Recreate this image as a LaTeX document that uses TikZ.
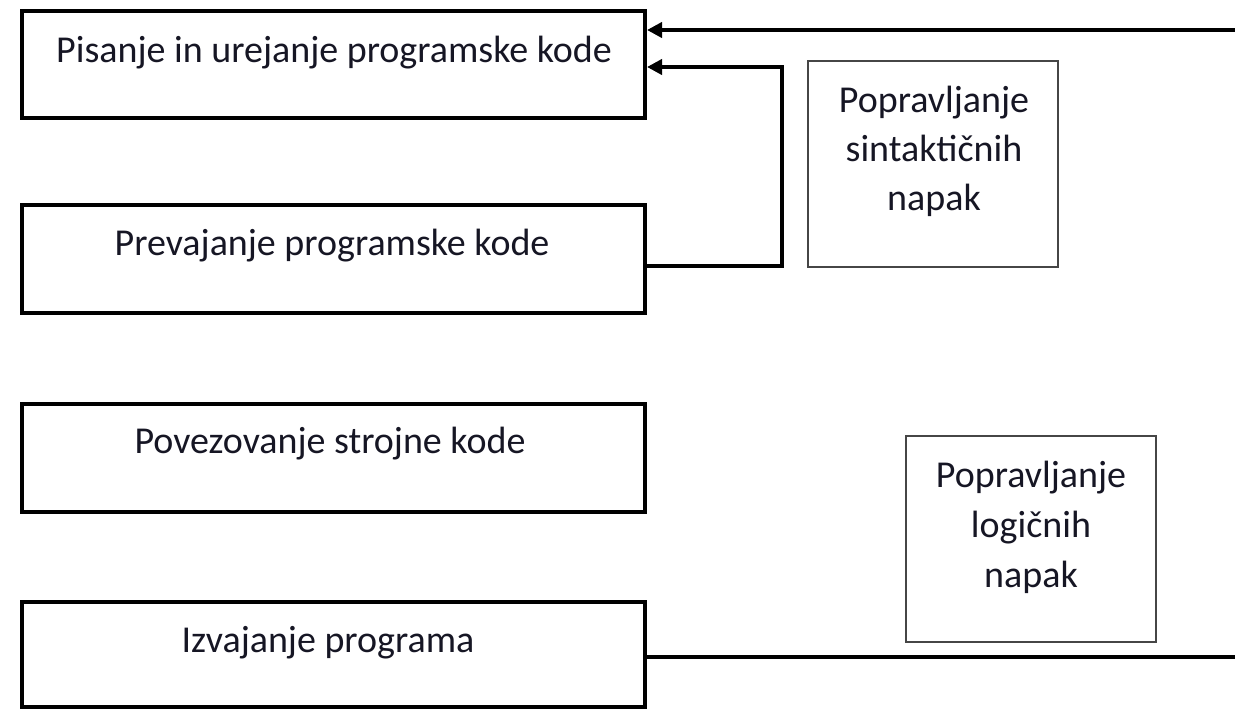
\documentclass[tikz,border=0pt]{standalone}
\usepackage{fontspec}
\setmainfont{Carlito}
\usetikzlibrary{arrows.meta}
\definecolor{txtcol}{RGB}{22,22,36}
\definecolor{fixgray}{RGB}{70,70,70}
\begin{document}
\begin{tikzpicture}[x=1pt,y=-1pt,
  box/.style={draw=black, line width=4pt, minimum width=623pt, inner sep=0pt},
  fixbox/.style={draw=fixgray, line width=2.5pt, minimum width=250pt, minimum height=206pt, inner sep=0pt},
  lbl/.style={font=\fontsize{38}{49.5}\selectfont, text=txtcol, inner sep=0pt, anchor=base, align=center},
  conn/.style={draw=black, line width=4pt},
  arr/.style={conn, -{Triangle[length=15pt,width=15pt]}}]
\useasboundingbox (0,0) rectangle (1235,710);

\node[box, minimum height=107pt] (b1) at (333.5,64.5) {};
\node[box, minimum height=108pt] (b2) at (333.5,259) {};
\node[box, minimum height=108pt] (b3) at (333.5,458) {};
\node[box, minimum height=105pt] (b4) at (333.5,654.5) {};
\node[fixbox] (b5) at (933,164) {};
\node[fixbox] (b6) at (1031,539) {};

\node[lbl] (t1) at (334,62) {Pisanje in urejanje programske kode};
\node[lbl] (t2) at (332,255) {Prevajanje programske kode};
\node[lbl] (t3) at (330,453) {Povezovanje strojne kode};
\node[lbl] (t4) at (328,652) {Izvajanje programa};
\node[lbl] (t5a) at (934,112) {Popravljanje};
\node[lbl] (t5b) at (934,161) {sintaktičnih};
\node[lbl] (t5c) at (934,210) {napak};
\node[lbl] (t6a) at (1031,487) {Popravljanje};
\node[lbl] (t6b) at (1031,537) {logičnih};
\node[lbl] (t6c) at (1031,587) {napak};

\coordinate (topin) at (1235,30);
\coordinate (jog) at (782,266);
\coordinate (botout) at (1235,657);

\draw[arr] (topin) -- (b1.east |- topin);
\draw[arr, line join=miter] (b2.east |- jog) -- (jog) |- ([yshift=-2.5pt]b1.east);
\draw[conn] (b4.east |- botout) -- (botout);
\end{tikzpicture}
\end{document}
